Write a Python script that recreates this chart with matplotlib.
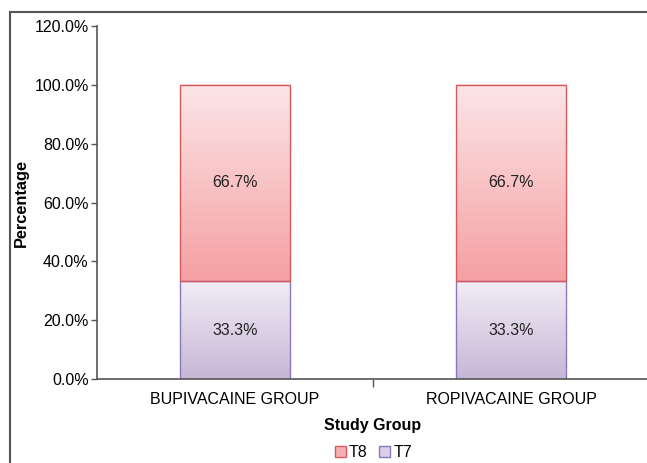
import numpy as np
import matplotlib.pyplot as plt
from matplotlib.patches import Rectangle
from matplotlib.lines import Line2D
from matplotlib.colors import LinearSegmentedColormap

groups = ['BUPIVACAINE GROUP', 'ROPIVACAINE GROUP']
t7 = [33.3, 33.3]
t8 = [66.7, 66.7]
yticks = [0, 20, 40, 60, 80, 100, 120]

plt.rcParams['font.family'] = ['Liberation Sans', 'DejaVu Sans']

fig = plt.figure(figsize=(6.47, 4.63), dpi=100)
ax = fig.add_axes([0.15, 0.1814, 0.853, 0.7624])

# gradient fills, light at the top, darker at the bottom
cm_t8 = LinearSegmentedColormap.from_list('t8', ['#f5a0a2', '#fce6e8'])
cm_t7 = LinearSegmentedColormap.from_list('t7', ['#c7b6d6', '#f1edf6'])
grad = np.linspace(0, 1, 256).reshape(-1, 1)

x = np.arange(len(groups))
w = 0.4
for i in x:
    for base, h, cm, ec in [(0, t7[i], cm_t7, '#8a78b8'),
                            (t7[i], t8[i], cm_t8, '#d45a5c')]:
        ax.imshow(grad, cmap=cm, origin='lower', aspect='auto',
                  extent=(i - w / 2, i + w / 2, base, base + h), zorder=1)
        ax.add_patch(Rectangle((i - w / 2, base), w, h, fill=False,
                               ec=ec, lw=1.0, zorder=2))
        ax.text(i, base + h / 2, f'{h:.1f}%', ha='center', va='center',
                fontsize=11.5, color='#222222', zorder=3)

ax.set_xlim(-0.5, 1.5)
ax.set_ylim(0, 120)
ax.set_yticks(yticks)
ax.set_yticklabels([f'{v:.1f}%' for v in yticks], fontsize=11.5)
ax.set_xticks(x)
ax.set_xticklabels(groups, fontsize=11.5)
ax.tick_params(axis='x', length=0, pad=9)
ax.set_xticks([0.5], minor=True)
ax.tick_params(axis='x', which='minor', length=6, width=1, color='#555555')
ax.tick_params(axis='y', length=4, width=1, color='#555555', pad=2)
for s in ['top', 'right']:
    ax.spines[s].set_visible(False)
for s in ['left', 'bottom']:
    ax.spines[s].set_color('#555555')
    ax.spines[s].set_linewidth(1.2)

ax.set_xlabel('Study Group', fontsize=11.5, fontweight='bold', labelpad=8)
ax.set_ylabel('Percentage', fontsize=11.8, fontweight='bold', labelpad=4)

handles = [Rectangle((0, 0), 1, 1, fc='#f5b0b2', ec='#d45a5c'),
           Rectangle((0, 0), 1, 1, fc='#dcd0e8', ec='#8a78b8')]
fig.legend(handles, ['T8', 'T7'], loc='center', bbox_to_anchor=(0.577, 0.022),
           ncol=2, frameon=False, fontsize=11.5, handlelength=0.7,
           handleheight=0.7, handletextpad=0.2, columnspacing=0.7)

# outer frame: top and left edges
fig.add_artist(Line2D([10 / 647, 1], [1 - 12 / 463, 1 - 12 / 463],
                      color='#555555', lw=1.5))
fig.add_artist(Line2D([10 / 647, 10 / 647], [0, 1 - 12 / 463],
                      color='#555555', lw=1.5))

fig.savefig('out.png', dpi=100)
